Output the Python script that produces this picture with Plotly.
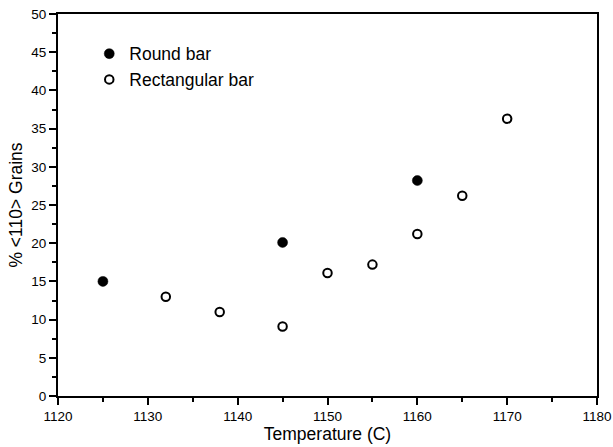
import plotly.graph_objects as go

round_temp = [1125, 1145, 1160]
round_pct = [15.0, 20.1, 28.2]
rect_temp = [1132, 1138, 1145, 1150, 1155, 1160, 1165, 1170]
rect_pct = [13.0, 11.0, 9.1, 16.1, 17.2, 21.2, 26.2, 36.3]

FONT = "Liberation Sans, Arial, sans-serif"

fig = go.Figure()
fig.add_trace(go.Scatter(x=round_temp, y=round_pct, mode="markers", name="Round bar",
                         marker=dict(symbol="circle", size=10, color="black",
                                     line=dict(color="black", width=0.5))))
fig.add_trace(go.Scatter(x=rect_temp, y=rect_pct, mode="markers", name="Rectangular bar",
                         marker=dict(symbol="circle-open", size=8.5, color="black",
                                     line=dict(color="black", width=2))))

axis_common = dict(showgrid=False, zeroline=False, showline=True, linecolor="black",
                   linewidth=2, mirror=True, ticks="outside", tickcolor="black",
                   tickwidth=1.5, ticklen=7, automargin=False,
                   ticklabeloverflow="allow",
                   tickfont=dict(family=FONT, size=13.5, color="black"))

fig.update_xaxes(range=[1120, 1180], dtick=10, tick0=1120,
                 minor=dict(dtick=5, ticks="outside", ticklen=4, tickcolor="black", tickwidth=1.5),
                 title=dict(text="Temperature (C)", font=dict(family=FONT, size=17.5, color="black"), standoff=4),
                 **axis_common)
fig.update_yaxes(range=[0, 50], dtick=5, tick0=0,
                 minor=dict(dtick=2.5, ticks="outside", ticklen=4, tickcolor="black", tickwidth=1.5),
                 title=dict(text="% <110> Grains", font=dict(family=FONT, size=17.5, color="black"), standoff=4),
                 **axis_common)

fig.update_layout(width=613, height=447, plot_bgcolor="white", paper_bgcolor="white",
                  margin=dict(l=58, r=16, t=14, b=51),
                  showlegend=True,
                  legend=dict(x=0.058, y=0.943, xanchor="left", yanchor="top",
                              bgcolor="rgba(0,0,0,0)",
                              font=dict(family=FONT, size=17.5, color="black"),
                              tracegroupgap=0, itemwidth=30))

fig.write_html("out.html",
               config={"displayModeBar": False},
               post_script="document.body.style.margin='0';document.body.style.overflow='hidden';")
